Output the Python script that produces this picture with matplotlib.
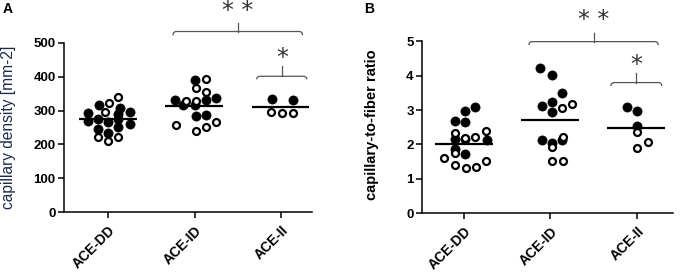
import matplotlib
matplotlib.use("Agg")
import matplotlib.pyplot as plt
import numpy as np
from matplotlib.path import Path
from matplotlib.patches import PathPatch

plt.rcParams['font.family'] = ['Liberation Sans', 'DejaVu Sans']

categories = ["ACE-DD", "ACE-ID", "ACE-II"]

# Panel A: capillary density [mm-2]
a_dd_filled = [315, 307, 292, 290, 295, 268, 276, 265, 276, 260, 246, 250, 234]
a_dd_filled_x = [-0.11, 0.135, -0.23, 0.116, 0.25, -0.23, -0.116, 0.0, 0.116, 0.25, -0.116, 0.116, 0.0]
a_dd_open = [339, 322, 295, 221, 221, 209]
a_dd_open_x = [0.116, 0.01, -0.04, -0.116, 0.116, 0.0]

a_id_filled = [390, 331, 316, 316, 331, 336, 285, 287]
a_id_filled_x = [0.01, -0.23, -0.13, 0.0, 0.135, 0.25, 0.02, 0.135]
a_id_open = [392, 365, 355, 328, 328, 257, 240, 252, 267]
a_id_open_x = [0.135, 0.016, 0.135, -0.105, 0.02, -0.22, 0.02, 0.135, 0.25]

a_ii_filled = [334, 331]
a_ii_filled_x = [-0.105, 0.14]
a_ii_open = [296, 292, 293]
a_ii_open_x = [-0.11, 0.01, 0.14]

a_means = [274, 313, 309]

# Panel B: capillary-to-fiber ratio
b_dd_filled = [3.10, 2.98, 2.68, 2.66, 2.15, 2.15, 2.13, 1.71, 1.86]
b_dd_filled_x = [0.124, 0.008, -0.108, 0.008, -0.108, 0.008, 0.26, 0.008, -0.108]
b_dd_open = [2.34, 2.23, 2.39, 2.20, 1.60, 1.76, 1.40, 1.31, 1.34, 1.53]
b_dd_open_x = [-0.108, 0.124, 0.25, 0.01, -0.23, -0.108, -0.108, 0.016, 0.135, 0.25]

b_id_filled = [4.21, 4.02, 3.51, 3.23, 3.12, 2.94, 2.13, 2.03, 2.13]
b_id_filled_x = [-0.12, 0.016, 0.13, 0.016, -0.1, 0.016, -0.1, 0.016, 0.13]
b_id_open = [3.05, 3.18, 2.21, 1.92, 1.52, 1.53]
b_id_open_x = [0.13, 0.246, 0.14, 0.016, 0.016, 0.14]

b_ii_filled = [3.08, 2.98, 2.55]
b_ii_filled_x = [-0.116, 0.007, 0.007]
b_ii_open = [2.37, 2.06, 1.89]
b_ii_open_x = [0.007, 0.128, 0.007]

b_means = [2.0, 2.72, 2.49]

fig = plt.figure(figsize=(6.8, 2.72), dpi=100)
axA = fig.add_axes([0.0941, 0.2195, 0.3647, 0.6235])
axB = fig.add_axes([0.6206, 0.2158, 0.369, 0.6324])

FILL = dict(marker='o', linestyle='none', ms=6.6, mfc='black', mec='black', mew=0.5, zorder=3)
OPEN = dict(marker='o', linestyle='none', ms=5.0, mfc='white', mec='black', mew=1.6, zorder=4)


def draw_groups(ax, groups, means):
    for i, (fv, fx, ov, ox) in enumerate(groups):
        ax.plot(np.array(fx) + i, fv, **FILL)
        ax.plot(np.array(ox) + i, ov, **OPEN)
        ax.plot([i - 0.34, i + 0.33], [means[i], means[i]], color='black', lw=1.6, zorder=5,
                solid_capstyle='butt')


def style(ax, ylim, yticks, xlim):
    ax.set_xlim(*xlim)
    ax.set_ylim(*ylim)
    ax.set_yticks(yticks)
    ax.set_xticks(range(len(categories)))
    ax.set_xticklabels(categories, rotation=45, ha='right', va='top', rotation_mode='anchor',
                       fontsize=10, fontweight='bold')
    for lab in ax.get_yticklabels():
        lab.set_fontweight('bold')
        lab.set_fontsize(9.5)
    for s in ['top', 'right']:
        ax.spines[s].set_visible(False)
    for s in ['left', 'bottom']:
        ax.spines[s].set_linewidth(1.1)
    ax.tick_params(axis='y', direction='out', length=4, width=1.1, pad=2)
    ax.tick_params(axis='x', direction='out', length=4, width=1.1, pad=4)
    ax.patch.set_alpha(0)


def bracket(ax, x0, x1, y_h, y_end, y_tick, r):
    verts = [(x0, y_end), (x0, y_h), (x0 + r, y_h),
             (x1 - r, y_h),
             (x1, y_h), (x1, y_end)]
    codes = [Path.MOVETO, Path.CURVE3, Path.CURVE3, Path.LINETO, Path.CURVE3, Path.CURVE3]
    ax.add_patch(PathPatch(Path(verts, codes), fill=False, edgecolor='#555555', lw=0.9,
                           clip_on=False))
    xc = (x0 + x1) / 2
    ax.plot([xc, xc], [y_h, y_tick], color='#555555', lw=0.9, clip_on=False)


# Panel A
draw_groups(axA, [(a_dd_filled, a_dd_filled_x, a_dd_open, a_dd_open_x),
                  (a_id_filled, a_id_filled_x, a_id_open, a_id_open_x),
                  (a_ii_filled, a_ii_filled_x, a_ii_open, a_ii_open_x)], a_means)
style(axA, (0, 500), range(0, 501, 100), (-0.513, 2.36))
axA.set_ylabel("capillary density [mm-2]", fontsize=11.2, color='#1c2b4a')
axA.yaxis.set_label_coords(-0.192, 0.5)
bracket(axA, 0.75, 2.25, 533, 522, 557, 0.04)
bracket(axA, 1.72, 2.30, 401, 392, 431, 0.04)
axA.text(1.5, 592, "* *", ha='center', va='center', fontsize=17, color='#333333',
         family='DejaVu Sans')
axA.text(2.02, 456, "*", ha='center', va='center', fontsize=17, color='#333333',
         family='DejaVu Sans')

# Panel B
draw_groups(axB, [(b_dd_filled, b_dd_filled_x, b_dd_open, b_dd_open_x),
                  (b_id_filled, b_id_filled_x, b_id_open, b_id_open_x),
                  (b_ii_filled, b_ii_filled_x, b_ii_open, b_ii_open_x)], b_means)
style(axB, (0, 5), range(0, 6), (-0.49, 2.42))
axB.set_ylabel("capillary-to-fiber ratio", fontsize=10.5, fontweight='bold', color='black')
axB.yaxis.set_label_coords(-0.172, 0.513)
bracket(axB, 0.75, 2.25, 4.99, 4.89, 5.23, 0.04)
bracket(axB, 1.70, 2.29, 3.80, 3.70, 4.07, 0.04)
axB.text(1.5, 5.62, "* *", ha='center', va='center', fontsize=17, color='#333333',
         family='DejaVu Sans')
axB.text(2.0, 4.32, "*", ha='center', va='center', fontsize=17, color='#333333',
         family='DejaVu Sans')

fig.text(8 / 680, 1 - 9 / 272, "A", ha='center', va='center', fontsize=10, fontweight='bold')
fig.text(369 / 680, 1 - 9 / 272, "B", ha='center', va='center', fontsize=10, fontweight='bold')

fig.savefig("out.png", dpi=100)
